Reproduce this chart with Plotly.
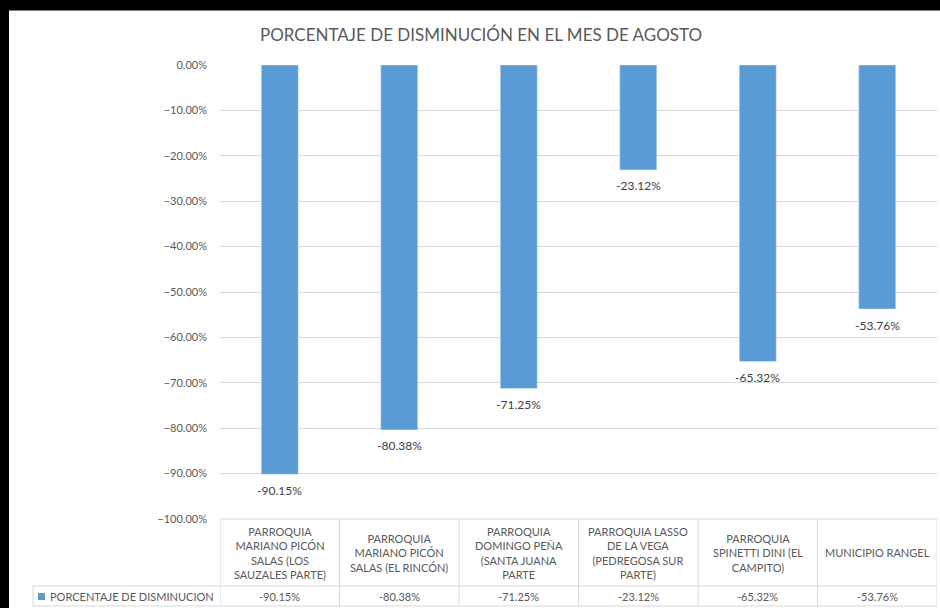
import plotly.graph_objects as go

categories = [
    "PARROQUIA<br>MARIANO PICÓN<br>SALAS (LOS<br>SAUZALES PARTE)",
    "PARROQUIA<br>MARIANO PICÓN<br>SALAS (EL RINCÓN)",
    "PARROQUIA<br>DOMINGO PEÑA<br>(SANTA JUANA<br>PARTE",
    "PARROQUIA LASSO<br>DE LA VEGA<br>(PEDREGOSA SUR<br>PARTE)",
    "PARROQUIA<br>SPINETTI DINI (EL<br>CAMPITO)",
    "MUNICIPIO RANGEL",
]
values = [-0.9015, -0.8038, -0.7125, -0.2312, -0.6532, -0.5376]
series_name = "PORCENTAJE DE DISMINUCION"
title_text = "PORCENTAJE DE DISMINUCIÓN EN EL MES DE AGOSTO"
y_ticks = [0, -0.1, -0.2, -0.3, -0.4, -0.5, -0.6, -0.7, -0.8, -0.9, -1.0]

FONT = "Lato"
GRAY = "#595959"
BAR = "#5B9BD5"
GRID = "#D9D9D9"

W, H = 940, 608
L, R, T, B = 220, 3, 65, 89
pw, ph = W - L - R, H - T - B

def px_x(px):
    return (px - L) / pw

def px_y(py):
    return (H - B - py) / ph

idx = list(range(len(categories)))
labels = [f"{v*100:.2f}%" for v in values]

fig = go.Figure()
fig.add_trace(go.Bar(
    x=idx, y=values, marker_color=BAR, width=0.31,
    cliponaxis=False, name=series_name,
))

shapes = []
annotations = []
line = dict(color=GRID, width=1)
row_sep = px_y(586)
row_bot = px_y(606)

# white chart area on black frame
shapes.append(dict(type="rect", xref="paper", yref="paper", x0=px_x(9), x1=px_x(940), y0=px_y(608), y1=px_y(11),
                   fillcolor="white", line=dict(width=0), layer="below"))
shapes.append(dict(type="line", xref="paper", yref="paper", x0=px_x(9), x1=px_x(940), y0=px_y(10.5), y1=px_y(10.5),
                   line=dict(color="#7F7F7F", width=1), layer="below"))

# table
shapes.append(dict(type="line", xref="x", yref="paper", x0=-0.5, x1=len(idx) - 0.5, y0=0, y1=0, line=line))
shapes.append(dict(type="line", xref="paper", yref="paper", x0=px_x(33), x1=1, y0=row_sep, y1=row_sep, line=line))
shapes.append(dict(type="line", xref="paper", yref="paper", x0=px_x(33), x1=1, y0=row_bot, y1=row_bot, line=line))
shapes.append(dict(type="line", xref="paper", yref="paper", x0=px_x(33), x1=px_x(33), y0=row_sep, y1=row_bot, line=line))
for i in range(len(idx) + 1):
    shapes.append(dict(type="line", xref="x", yref="paper", x0=i - 0.5, x1=i - 0.5, y0=0, y1=row_bot, line=line))

for i, (c, lab, v) in enumerate(zip(categories, labels, values)):
    annotations.append(dict(x=i, y=(0 + row_sep) / 2, xref="x", yref="paper", text=c, showarrow=False,
                            xanchor="center", yanchor="middle",
                            font=dict(family=FONT, size=11, color=GRAY), align="center"))
    annotations.append(dict(x=i, y=(row_sep + row_bot) / 2, xref="x", yref="paper", text=lab, showarrow=False,
                            xanchor="center", yanchor="middle",
                            font=dict(family=FONT, size=11, color=GRAY)))
    # data label below bar end
    annotations.append(dict(x=i, y=v, xref="x", yref="y", text=lab, showarrow=False,
                            xanchor="center", yanchor="middle", yshift=-16,
                            font=dict(family=FONT, size=12, color="#404040")))

# legend key in table
shapes.append(dict(type="rect", xref="paper", yref="paper", x0=px_x(38), x1=px_x(45),
                   y0=px_y(600), y1=px_y(593), fillcolor=BAR, line=dict(width=0)))
annotations.append(dict(x=px_x(48), y=(row_sep + row_bot) / 2, xref="paper", yref="paper", text=series_name,
                        showarrow=False, xanchor="left", yanchor="middle",
                        font=dict(family=FONT, size=11, color=GRAY)))

# title
annotations.append(dict(x=px_x(481), y=px_y(35), xref="paper", yref="paper", text=title_text, showarrow=False,
                        xanchor="center", yanchor="middle", font=dict(family=FONT, size=17, color=GRAY)))

fig.update_layout(
    width=W, height=H,
    margin=dict(l=L, r=R, t=T, b=B, pad=0),
    paper_bgcolor="black", plot_bgcolor="white",
    showlegend=False, bargap=0.69,
    shapes=shapes, annotations=annotations,
    xaxis=dict(range=[-0.5, len(idx) - 0.5], showticklabels=False, showgrid=False, zeroline=False,
               showline=False, ticks=""),
    yaxis=dict(range=[-1.0, 0], tickvals=y_ticks, tickformat=".2%", showgrid=True, gridcolor=GRID,
               gridwidth=1, zeroline=False, showline=False, ticks="",
               tickfont=dict(family=FONT, size=11, color=GRAY), ticklabelstandoff=12),
)

fig.write_html("out.html", config={"displayModeBar": False},
               post_script="document.body.style.margin='0';")
